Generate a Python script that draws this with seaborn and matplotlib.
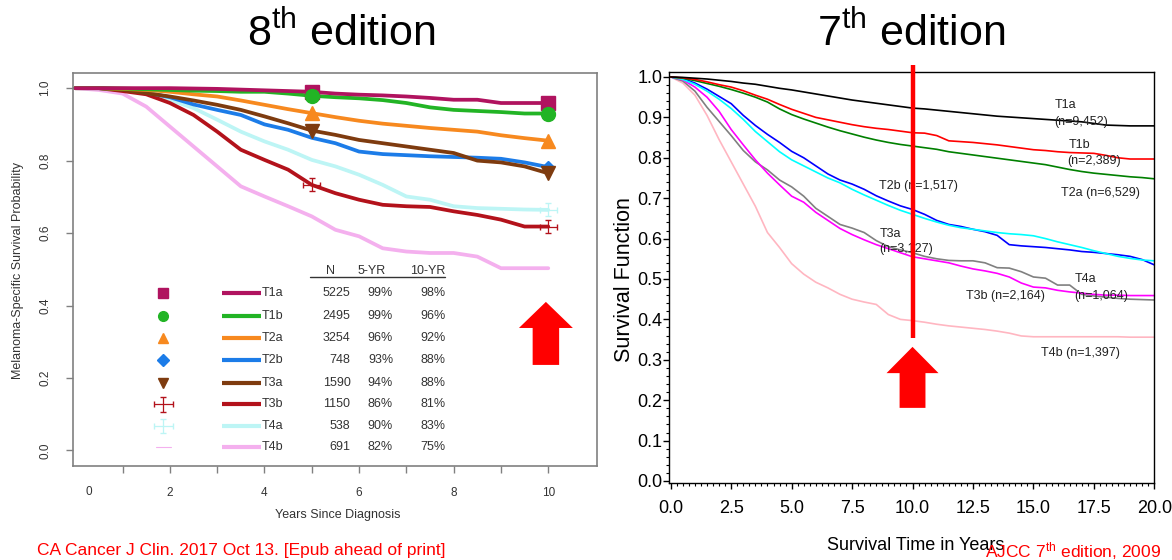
import matplotlib
matplotlib.use("Agg")
import matplotlib.pyplot as plt
from matplotlib.patches import FancyArrow
from matplotlib.ticker import MultipleLocator
import pandas as pd
import seaborn as sns

# ---------------- 8th edition: melanoma-specific survival ----------------
stages = ["T1a", "T1b", "T2a", "T2b", "T3a", "T3b", "T4a", "T4b"]
years8 = [0.0, 0.5, 1.0, 1.5, 2.0, 2.5, 3.0, 3.5, 4.0, 4.5, 5.0,
          5.5, 6.0, 6.5, 7.0, 7.5, 8.0, 8.5, 9.0, 9.5, 10.0]
surv8_T1a = [1.0, 1.0, 1.0, 1.0, 1.0, 0.999, 0.998, 0.996, 0.994, 0.992, 0.990,
             0.985, 0.982, 0.980, 0.977, 0.973, 0.968, 0.968, 0.959, 0.959, 0.959]
surv8_T1b = [1.0, 1.0, 0.999, 0.997, 0.995, 0.993, 0.992, 0.990, 0.990, 0.985, 0.979,
             0.975, 0.972, 0.967, 0.959, 0.947, 0.940, 0.937, 0.934, 0.930, 0.930]
surv8_T2a = [1.0, 1.0, 0.998, 0.995, 0.990, 0.983, 0.977, 0.966, 0.954, 0.942, 0.931,
             0.920, 0.910, 0.902, 0.896, 0.890, 0.885, 0.880, 0.870, 0.862, 0.855]
surv8_T2b = [1.0, 1.0, 0.997, 0.988, 0.975, 0.955, 0.940, 0.926, 0.900, 0.885, 0.863,
             0.848, 0.825, 0.818, 0.815, 0.812, 0.810, 0.808, 0.805, 0.795, 0.782]
surv8_T3a = [1.0, 1.0, 0.995, 0.986, 0.977, 0.966, 0.954, 0.940, 0.922, 0.903, 0.883,
             0.871, 0.857, 0.848, 0.839, 0.830, 0.821, 0.800, 0.795, 0.784, 0.765]
surv8_T3b = [1.0, 1.0, 0.992, 0.983, 0.959, 0.926, 0.880, 0.830, 0.802, 0.775, 0.733,
             0.710, 0.692, 0.678, 0.674, 0.672, 0.660, 0.650, 0.637, 0.618, 0.618]
surv8_T4a = [1.0, 1.0, 0.997, 0.990, 0.968, 0.945, 0.913, 0.880, 0.853, 0.830, 0.802,
             0.784, 0.761, 0.733, 0.701, 0.692, 0.674, 0.669, 0.667, 0.665, 0.664]
surv8_T4b = [1.0, 0.995, 0.985, 0.949, 0.894, 0.839, 0.784, 0.729, 0.701, 0.674, 0.646,
             0.609, 0.591, 0.558, 0.549, 0.545, 0.545, 0.535, 0.503, 0.503, 0.503]

n_patients = [5225, 2495, 3254, 748, 1590, 1150, 538, 691]
five_year = ["99%", "99%", "96%", "93%", "94%", "86%", "90%", "82%"]
ten_year = ["98%", "96%", "92%", "88%", "88%", "81%", "83%", "75%"]

x8_ticks = [1, 2, 3, 4, 5, 6, 7, 8, 9, 10]
x8_ticklabels = ["", "2", "", "4", "", "6", "", "8", "", "10"]
y8_ticks = [0.0, 0.2, 0.4, 0.6, 0.8, 1.0]

# ---------------- 7th edition: survival function ----------------
years7 = [0.0, 0.5, 1.0, 1.5, 2.0, 2.5, 3.0, 3.5, 4.0, 4.5, 5.0,
          5.5, 6.0, 6.5, 7.0, 7.5, 8.0, 8.5, 9.0, 9.5, 10.0,
          10.5, 11.0, 11.5, 12.0, 12.5, 13.0, 13.5, 14.0, 14.5, 15.0,
          15.5, 16.0, 16.5, 17.0, 17.5, 18.0, 18.5, 19.0, 19.5, 20.0]
surv7_T1a = [1.0, 0.999, 0.997, 0.995, 0.992, 0.989, 0.985, 0.982, 0.977, 0.972, 0.968,
             0.963, 0.958, 0.953, 0.948, 0.943, 0.939, 0.935, 0.931, 0.927, 0.923,
             0.921, 0.918, 0.915, 0.912, 0.909, 0.906, 0.903, 0.901, 0.899, 0.897,
             0.895, 0.893, 0.891, 0.889, 0.885, 0.881, 0.880, 0.879, 0.879, 0.879]
surv7_T1b = [1.0, 0.998, 0.994, 0.988, 0.981, 0.975, 0.966, 0.955, 0.945, 0.932, 0.920,
             0.910, 0.900, 0.894, 0.888, 0.882, 0.877, 0.873, 0.870, 0.866, 0.862,
             0.861, 0.855, 0.842, 0.840, 0.838, 0.835, 0.832, 0.828, 0.824, 0.820,
             0.818, 0.815, 0.813, 0.812, 0.811, 0.806, 0.800, 0.797, 0.797, 0.797]
surv7_T2a = [1.0, 0.997, 0.991, 0.984, 0.977, 0.969, 0.960, 0.950, 0.938, 0.921, 0.907,
             0.896, 0.886, 0.876, 0.867, 0.859, 0.851, 0.844, 0.838, 0.833, 0.829,
             0.825, 0.821, 0.815, 0.811, 0.807, 0.803, 0.799, 0.795, 0.791, 0.787,
             0.783, 0.777, 0.771, 0.766, 0.762, 0.759, 0.756, 0.753, 0.751, 0.748]
surv7_T2b = [1.0, 0.996, 0.985, 0.970, 0.952, 0.934, 0.905, 0.880, 0.858, 0.838, 0.816,
             0.800, 0.780, 0.760, 0.745, 0.735, 0.722, 0.706, 0.693, 0.681, 0.672,
             0.660, 0.645, 0.635, 0.630, 0.623, 0.617, 0.608, 0.585, 0.582, 0.580,
             0.578, 0.575, 0.572, 0.568, 0.566, 0.563, 0.560, 0.556, 0.548, 0.535]
surv7_T3a = [1.0, 0.990, 0.965, 0.925, 0.890, 0.855, 0.818, 0.790, 0.770, 0.745, 0.728,
             0.705, 0.675, 0.655, 0.635, 0.626, 0.615, 0.595, 0.580, 0.572, 0.565,
             0.556, 0.550, 0.546, 0.545, 0.545, 0.540, 0.528, 0.527, 0.518, 0.505,
             0.502, 0.485, 0.485, 0.462, 0.458, 0.455, 0.452, 0.450, 0.449, 0.448]
surv7_T3b = [1.0, 0.993, 0.975, 0.950, 0.915, 0.870, 0.832, 0.795, 0.762, 0.733, 0.705,
             0.690, 0.665, 0.645, 0.625, 0.610, 0.597, 0.585, 0.575, 0.565, 0.555,
             0.550, 0.545, 0.540, 0.532, 0.525, 0.520, 0.514, 0.505, 0.490, 0.480,
             0.478, 0.472, 0.468, 0.465, 0.462, 0.460, 0.460, 0.459, 0.459, 0.459]
surv7_T4a = [1.0, 0.994, 0.982, 0.965, 0.945, 0.922, 0.895, 0.865, 0.840, 0.815, 0.795,
             0.780, 0.765, 0.750, 0.738, 0.722, 0.708, 0.695, 0.682, 0.670, 0.660,
             0.650, 0.641, 0.633, 0.627, 0.623, 0.619, 0.615, 0.612, 0.610, 0.607,
             0.600, 0.592, 0.585, 0.578, 0.570, 0.563, 0.556, 0.551, 0.547, 0.545]
surv7_T4b = [1.0, 0.985, 0.955, 0.905, 0.845, 0.790, 0.735, 0.680, 0.615, 0.578, 0.538,
             0.512, 0.492, 0.478, 0.462, 0.450, 0.443, 0.437, 0.412, 0.400, 0.397,
             0.393, 0.388, 0.384, 0.381, 0.378, 0.375, 0.371, 0.366, 0.359, 0.357,
             0.357, 0.357, 0.357, 0.357, 0.357, 0.357, 0.357, 0.356, 0.356, 0.356]

labels7 = ["T1a", "(n=9,452)", "T1b", "(n=2,389)", "T2a (n=6,529)", "T2b (n=1,517)",
           "T3a", "(n=3,127)", "T4a", "T3b (n=2,164)", "(n=1,064)", "T4b (n=1,397)"]
y7_ticks = [0.0, 0.1, 0.2, 0.3, 0.4, 0.5, 0.6, 0.7, 0.8, 0.9, 1.0]
x7_ticks = [0.0, 2.5, 5.0, 7.5, 10.0, 12.5, 15.0, 17.5, 20.0]

# ---------------- styling ----------------
sns.set_theme(style="white")
plt.rcParams["font.family"] = ["Liberation Sans", "DejaVu Sans"]
plt.rcParams["mathtext.fontset"] = "custom"
plt.rcParams["mathtext.rm"] = "Liberation Sans"
plt.rcParams["mathtext.it"] = "Liberation Sans:italic"

pal8 = {"T1a": "#B0135F", "T1b": "#22B425", "T2a": "#F7891F", "T2b": "#1C7CE8",
        "T3a": "#7E3B0F", "T3b": "#B3121B", "T4a": "#BDF5F5", "T4b": "#F4B0EE"}
markers8 = {"T1a": "s", "T1b": "o", "T2a": "^", "T2b": "D", "T3a": "v"}
pal7 = {"T1a": "#000000", "T1b": "#FF0000", "T2a": "#008000", "T2b": "#0000FF",
        "T3a": "#808080", "T3b": "#FF00FF", "T4a": "#00FFFF", "T4b": "#FFB6C1"}

surv8 = dict(zip(stages, [surv8_T1a, surv8_T1b, surv8_T2a, surv8_T2b,
                          surv8_T3a, surv8_T3b, surv8_T4a, surv8_T4b]))
surv7 = dict(zip(stages, [surv7_T1a, surv7_T1b, surv7_T2a, surv7_T2b,
                          surv7_T3a, surv7_T3b, surv7_T4a, surv7_T4b]))

df8 = pd.concat([pd.DataFrame({"year": years8, "surv": surv8[s], "stage": s}) for s in stages])
df7 = pd.concat([pd.DataFrame({"year": years7, "surv": surv7[s], "stage": s}) for s in stages])

W, H = 1172, 560
fig = plt.figure(figsize=(W / 100, H / 100), dpi=100)
fig.patch.set_facecolor("white")

# ======== left panel ========
ax8 = fig.add_axes([73.3 / W, 1 - 466 / H, (596.5 - 73.3) / W, (466 - 73.3) / H])
order8 = ["T4b", "T4a", "T3b", "T2b", "T3a", "T2a", "T1b", "T1a"]
sns.lineplot(data=df8, x="year", y="surv", hue="stage", hue_order=order8,
             palette=pal8, linewidth=2.7, estimator=None, sort=False,
             legend=False, ax=ax8)

i5, i10 = years8.index(5.0), years8.index(10.0)
for s, m in markers8.items():
    size = 6 if m == "D" else 10
    xs = [10.0] if s == "T2b" else [5.0, 10.0]
    ys = [surv8[s][i10]] if s == "T2b" else [surv8[s][i5], surv8[s][i10]]
    ax8.plot(xs, ys, linestyle="none", marker=m, markersize=size,
             color=pal8[s], zorder=5)
for x in (5.0, 10.0):
    ax8.errorbar([x], [surv8["T3b"][years8.index(x)]], xerr=0.18, yerr=0.018,
                 color=pal8["T3b"], lw=0.9, capsize=2, zorder=5)
ax8.errorbar([10.0], [surv8["T4a"][i10]], xerr=0.18, yerr=0.018,
             color=pal8["T4a"], lw=0.9, capsize=2, zorder=5)

ax8.set_xlim(-0.042, 11.02)
ax8.set_ylim(-0.043, 1.041)
ax8.set_xticks(x8_ticks)
ax8.set_xticklabels(x8_ticklabels)
ax8.set_yticks(y8_ticks)
ax8.set_yticklabels([f"{v:.1f}" for v in y8_ticks])
ax8.tick_params(axis="both", which="major", direction="out", length=5, width=1,
                color="#808080", labelsize=8.5, labelcolor="#333333", bottom=True, left=True)
ax8.tick_params(axis="x", pad=10)
ax8.tick_params(axis="y", pad=11)
plt.setp(ax8.get_yticklabels(), rotation=90, va="center")
for sp in ax8.spines.values():
    sp.set_color("#808080")
    sp.set_linewidth(1.2)
ax8.set_xlabel("")
ax8.set_ylabel("")
ax8.text(0.29, -0.115, "0", ha="center", va="center", fontsize=8.5, color="#333333",
         transform=ax8.transData, clip_on=False)
fig.text(338 / W, 1 - 515 / H, "Years Since Diagnosis", ha="center", va="center",
         fontsize=9, color="#333333")
fig.text(18 / W, 1 - 270 / H, "Melanoma-Specific Survival Probability", ha="center",
         va="center", rotation=90, fontsize=9, color="#333333")

# summary table inside the left panel
row_y = [0.434, 0.372, 0.309, 0.249, 0.187, 0.127, 0.067, 0.010]
tkw = dict(fontsize=9, color="#333333", va="center")
ax8.text(5.40, 0.496, "N", ha="center", **tkw)
ax8.text(6.27, 0.496, "5-YR", ha="center", **tkw)
ax8.text(7.82, 0.496, "10-YR", ha="right", **tkw)
ax8.plot([4.96, 7.82], [0.478, 0.478], color="#333333", lw=1.0)
for s, y, n, f5, f10 in zip(stages, row_y, n_patients, five_year, ten_year):
    if s in markers8:
        ax8.plot([1.86], [y], linestyle="none", marker=markers8[s],
                 markersize=7 if s != "T2b" else 6, color=pal8[s])
    elif s in ("T3b", "T4a"):
        ax8.errorbar([1.86], [y], xerr=0.2, yerr=0.02, color=pal8[s], lw=0.9, capsize=2)
    else:
        ax8.plot([1.70, 2.02], [y, y], color=pal8[s], lw=0.8)
    ax8.plot([3.10, 3.92], [y, y], color=pal8[s], lw=3.0, solid_capstyle="butt")
    ax8.text(3.95, y, s, ha="left", **tkw)
    ax8.text(5.82, y, str(n), ha="right", **tkw)
    ax8.text(6.72, y, f5, ha="right", **tkw)
    ax8.text(7.82, y, f10, ha="right", **tkw)

ax8.add_patch(FancyArrow(9.95, 0.236, 0, 0.174, width=0.56, head_width=1.14,
                         head_length=0.072, length_includes_head=True,
                         color="#FF0000", lw=0, zorder=6))

# ======== right panel ========
ax7 = fig.add_axes([669.3 / W, 1 - 483.3 / H, (1154.3 - 669.3) / W, (483.3 - 71.5) / H])
order7 = ["T4b", "T3a", "T3b", "T2b", "T4a", "T2a", "T1b", "T1a"]
sns.lineplot(data=df7, x="year", y="surv", hue="stage", hue_order=order7,
             palette=pal7, linewidth=1.2, estimator=None, sort=False,
             legend=False, ax=ax7)
ax7.set_xlim(-0.06, 20.0)
ax7.set_ylim(-0.0057, 1.0136)
ax7.set_xticks(x7_ticks)
ax7.set_xticklabels([f"{v:.1f}" for v in x7_ticks])
ax7.set_yticks(y7_ticks)
ax7.set_yticklabels([f"{v:.1f}" for v in y7_ticks])
ax7.xaxis.set_minor_locator(MultipleLocator(0.25))
ax7.yaxis.set_minor_locator(MultipleLocator(0.02))
ax7.tick_params(axis="both", which="major", direction="out", length=4, width=1,
                color="black", labelsize=13, labelcolor="black", bottom=True, left=True)
ax7.tick_params(axis="both", which="minor", direction="out", length=2.2, width=0.8,
                color="black", bottom=True, left=True)
ax7.tick_params(axis="x", which="major", pad=8)
ax7.tick_params(axis="y", which="major", pad=1)
for sp in ax7.spines.values():
    sp.set_color("black")
    sp.set_linewidth(1.0)
ax7.set_xlabel("")
ax7.set_ylabel("")

label_pos = [(15.9, 0.930), (15.86, 0.889), (16.45, 0.832), (16.4, 0.791),
             (16.15, 0.713), (8.6, 0.730), (8.64, 0.611), (8.64, 0.574),
             (16.7, 0.500), (12.2, 0.459), (16.7, 0.457), (15.3, 0.317)]
for txt, (x, y) in zip(labels7, label_pos):
    ax7.text(x, y, txt, ha="left", va="center", fontsize=9, color="#222222", zorder=3)

ax7.plot([10.0, 10.0], [0.354, 1.03], color="#FF0000", lw=3.2, zorder=6,
         clip_on=False, solid_capstyle="butt")
ax7.add_patch(FancyArrow(10.0, 0.181, 0, 0.151, width=1.07, head_width=2.15,
                         head_length=0.065, length_includes_head=True,
                         color="#FF0000", lw=0, zorder=6))

fig.text(624 / W, 1 - 280 / H, "Survival Function", rotation=90, ha="center",
         va="center", fontsize=15.5, color="black")
fig.text(916 / W, 1 - 545 / H, "Survival Time in Years", ha="center", va="center",
         fontsize=13, color="black")

# ======== titles and sources ========
fig.text(341 / W, 1 - 45.7 / H, r"8$^{\mathrm{th}}$ edition", ha="center",
         va="baseline", fontsize=31, color="black")
fig.text(911 / W, 1 - 45.7 / H, r"7$^{\mathrm{th}}$ edition", ha="center",
         va="baseline", fontsize=31, color="black")
fig.text(37 / W, 1 - 550 / H, "CA Cancer J Clin. 2017 Oct 13. [Epub ahead of print]",
         ha="left", va="center", fontsize=12.5, color="#FF0000")
fig.text(985 / W, 1 - 551 / H, r"AJCC 7$^{\mathrm{th}}$ edition, 2009", ha="left",
         va="center", fontsize=12.5, color="#FF0000")

fig.savefig("out.png", dpi=100)
